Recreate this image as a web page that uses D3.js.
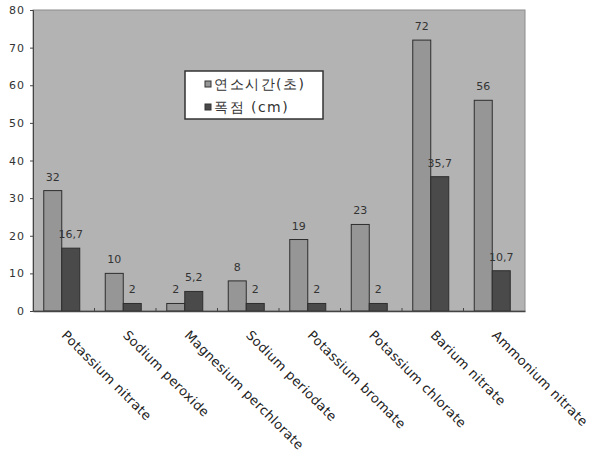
<!DOCTYPE html>
<html>
<head>
<meta charset="utf-8">
<script src="https://cdn.jsdelivr.net/npm/d3@7"></script>
<style>
  body { margin: 0; background: #fff; }
  text { font-family: "DejaVu Sans", Arial, sans-serif; }
</style>
</head>
<body>
<div id="chart"></div>
<script>
const categories = [
  "Potassium nitrate", "Sodium peroxide", "Magnesium perchlorate", "Sodium periodate",
  "Potassium bromate", "Potassium chlorate", "Barium nitrate", "Ammonium nitrate"
];
const burnTime = [32, 10, 2, 8, 19, 23, 72, 56];
const blastPoint = [16.7, 2, 5.2, 2, 2, 2, 35.7, 10.7];
const seriesNames = ["연소시간(초)", "폭점 (cm)"];
const yTicks = [0, 10, 20, 30, 40, 50, 60, 70, 80];

const width = 592;
const height = 450;
const margin = { top: 10, right: 67, bottom: 139, left: 33 };
const innerW = width - margin.left - margin.right;
const innerH = height - margin.top - margin.bottom;

const svg = d3.select("#chart").append("svg")
  .attr("width", width)
  .attr("height", height);

const g = svg.append("g")
  .attr("transform", `translate(${margin.left}, ${margin.top})`);

const x = d3.scaleBand().domain(categories).range([0, innerW]);
const x1 = d3.scaleBand().domain([0, 1]).range([x.bandwidth() / 2 - 20, x.bandwidth() / 2 + 16]);
const y = d3.scaleLinear().domain([0, 80]).range([innerH, 0]);

// plot background
g.append("rect")
  .attr("width", innerW)
  .attr("height", innerH)
  .attr("fill", "#b3b3b3")
  .attr("stroke", "#8c8c8c")
  .attr("stroke-width", 1);

const series = [
  { name: seriesNames[0], values: burnTime, color: "#969696" },
  { name: seriesNames[1], values: blastPoint, color: "#4a4a4a" }
];

const fmt = v => String(v).replace(".", ",");

series.forEach((s, si) => {
  g.selectAll(null)
    .data(s.values)
    .enter()
    .append("rect")
    .attr("x", (d, i) => x(categories[i]) + x1(si))
    .attr("y", d => y(d))
    .attr("width", x1.bandwidth())
    .attr("height", d => innerH - y(d))
    .attr("fill", s.color)
    .attr("stroke", "#2e2e2e")
    .attr("stroke-width", 1);

  g.selectAll(null)
    .data(s.values)
    .enter()
    .append("text")
    .attr("x", (d, i) => x(categories[i]) + x1(si) + x1.bandwidth() / 2)
    .attr("y", d => y(d) - 10)
    .attr("text-anchor", "middle")
    .attr("font-size", 11)
    .attr("fill", "#333")
    .text(d => fmt(d));
});

// y axis
const yAxis = g.append("g")
  .call(d3.axisLeft(y).tickValues(yTicks).tickSize(3).tickPadding(5));
yAxis.select(".domain").attr("stroke", "#444");
yAxis.selectAll("line").attr("stroke", "#444");
yAxis.selectAll("text")
  .attr("font-size", 11)
  .attr("letter-spacing", 1)
  .attr("fill", "#333");

// x axis
const xAxis = g.append("g")
  .attr("transform", `translate(0, ${innerH})`)
  .call(d3.axisBottom(x).tickSize(0).tickFormat(""));
xAxis.select(".domain").attr("stroke", "#444").attr("stroke-width", 1.5);

// category boundary ticks
g.selectAll(null)
  .data(categories.slice(1))
  .enter()
  .append("line")
  .attr("x1", d => x(d))
  .attr("x2", d => x(d))
  .attr("y1", innerH)
  .attr("y2", innerH - 3)
  .attr("stroke", "#444");

// rotated category labels
g.selectAll(null)
  .data(categories)
  .enter()
  .append("text")
  .attr("transform", d => `translate(${x(d) + x.bandwidth() / 2 - 3}, ${innerH + 25}) rotate(45)`)
  .attr("font-size", 13)
  .attr("letter-spacing", 0.4)
  .attr("fill", "#222")
  .text(d => d);

// legend
const legend = g.append("g").attr("transform", "translate(152, 61)");
legend.append("rect")
  .attr("width", 138)
  .attr("height", 48)
  .attr("fill", "#fff")
  .attr("stroke", "#333")
  .attr("stroke-width", 1.5);

const li = legend.selectAll(null)
  .data(series)
  .enter()
  .append("g")
  .attr("transform", (d, i) => `translate(20, ${13 + i * 23})`);
li.append("rect")
  .attr("x", 0)
  .attr("y", -3)
  .attr("width", 6)
  .attr("height", 6)
  .attr("fill", d => d.color)
  .attr("stroke", "#333");
li.append("text")
  .attr("x", 9)
  .attr("y", 5)
  .attr("font-family", "'Noto Sans CJK KR', sans-serif")
  .attr("font-size", 14)
  .attr("letter-spacing", 1.5)
  .attr("fill", "#333")
  .text(d => d.name);
</script>
</body>
</html>
